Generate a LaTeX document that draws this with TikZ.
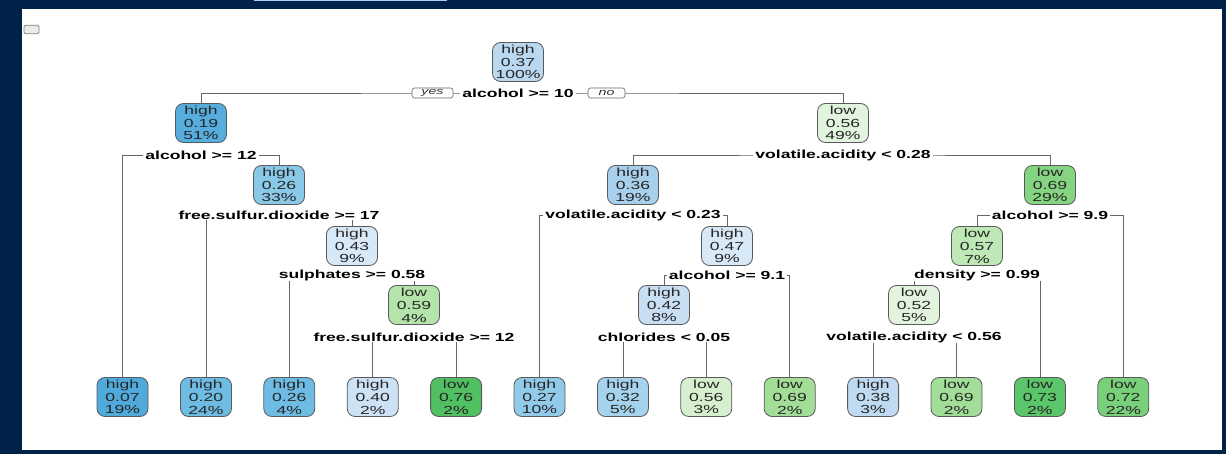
\documentclass[tikz,border=0pt]{standalone}
\usepackage{fontspec}
\newfontfamily\rf[FakeStretch=1.5]{Liberation Sans}
\pgfdeclarelayer{back}\pgfdeclarelayer{edges}\pgfsetlayers{back,edges,main}
\definecolor{navy}{RGB}{0,34,72}
\definecolor{topbar}{RGB}{176,204,240}
\definecolor{cA}{RGB}{80,170,220}
\definecolor{cB}{RGB}{86,173,222}
\definecolor{cC}{RGB}{110,188,228}
\definecolor{cD}{RGB}{138,200,232}
\definecolor{cE}{RGB}{145,203,233}
\definecolor{cF}{RGB}{165,210,236}
\definecolor{cG}{RGB}{168,208,236}
\definecolor{cH}{RGB}{186,216,240}
\definecolor{cI}{RGB}{192,218,241}
\definecolor{cJ}{RGB}{205,226,245}
\definecolor{cK}{RGB}{200,222,243}
\definecolor{cL}{RGB}{215,232,247}
\definecolor{gA}{RGB}{226,244,222}
\definecolor{gB}{RGB}{225,245,222}
\definecolor{gC}{RGB}{214,240,207}
\definecolor{gD}{RGB}{190,233,182}
\definecolor{gE}{RGB}{180,228,170}
\definecolor{gF}{RGB}{162,222,152}
\definecolor{gG}{RGB}{132,212,130}
\definecolor{gH}{RGB}{120,208,122}
\definecolor{gI}{RGB}{90,198,105}
\definecolor{gJ}{RGB}{80,192,98}
\begin{document}
\begin{tikzpicture}[x=1pt,y=-1pt,
  nd/.style={draw=black!65, line width=0.8pt, rounded corners=8pt,
    minimum width=51pt, minimum height=39pt, inner xsep=3pt, inner ysep=1pt,
    align=center, text=black!85, font=\rf\fontsize{11.7}{12.8}\selectfont},
  lbl/.style={fill=white, inner xsep=2pt, inner ysep=1pt, text=black,
    font=\rf\bfseries\fontsize{11.7}{12.8}\selectfont},
  yn/.style={draw=black!60, fill=white, line width=0.6pt, rounded corners=2.5pt,
    minimum height=10pt, inner sep=0.5pt, text=black!80,
    font=\rf\itshape\fontsize{9.5}{10}\selectfont},
  ln/.style={draw=black!60, line width=0.8pt},
  chk/.style={draw=black!50, fill=black!8, line width=0.8pt, rounded corners=1.5pt,
    minimum width=15pt, minimum height=8.5pt, inner sep=0pt}]
\useasboundingbox (0,0) rectangle (1226,454);
\begin{pgfonlayer}{back}
\fill[navy] (0,0) rectangle (1226,454);
\fill[white] (22,9) rectangle (1222,450);
\fill[topbar] (254,0) rectangle (447,1.5);
\end{pgfonlayer}
\node[chk] (cb) at (31.5,29.5) {};
% internal nodes
\node[nd, fill=cH] (n1) at (518,62) {high\\0.37\\100\%};
\node[nd, fill=cB] (n2) at (201,123) {high\\0.19\\51\%};
\node[nd, fill=gB] (n3) at (843,123) {low\\0.56\\49\%};
\node[nd, fill=cD] (n4) at (279,185) {high\\0.26\\33\%};
\node[nd, fill=cG] (n6) at (633,185) {high\\0.36\\19\%};
\node[nd, fill=gG] (n7) at (1050,185) {low\\0.69\\29\%};
\node[nd, fill=cL] (n9) at (352,246) {high\\0.43\\9\%};
\node[nd, fill=cL] (n13) at (727,246) {high\\0.47\\9\%};
\node[nd, fill=gD] (n14) at (977,246) {low\\0.57\\7\%};
\node[nd, fill=gE] (n19) at (414,305) {low\\0.59\\4\%};
\node[nd, fill=cK] (n26) at (664,305) {high\\0.42\\8\%};
\node[nd, fill=gA] (n28) at (914,305) {low\\0.52\\5\%};
% leaves
\node[nd, fill=cA] (l1) at (122.5,397) {high\\0.07\\19\%};
\node[nd, fill=cC] (l2) at (206,397) {high\\0.20\\24\%};
\node[nd, fill=cC] (l3) at (289.3,397) {high\\0.26\\4\%};
\node[nd, fill=cJ] (l4) at (372.7,397) {high\\0.40\\2\%};
\node[nd, fill=gJ] (l5) at (456.1,397) {low\\0.76\\2\%};
\node[nd, fill=cE] (l6) at (539.5,397) {high\\0.27\\10\%};
\node[nd, fill=cF] (l7) at (622.9,397) {high\\0.32\\5\%};
\node[nd, fill=gC] (l8) at (706.3,397) {low\\0.56\\3\%};
\node[nd, fill=gF] (l9) at (789.7,397) {low\\0.69\\2\%};
\node[nd, fill=cI] (l10) at (873.1,397) {high\\0.38\\3\%};
\node[nd, fill=gF] (l11) at (956.5,397) {low\\0.69\\2\%};
\node[nd, fill=gI] (l12) at (1039.9,397) {low\\0.73\\2\%};
\node[nd, fill=gH] (l13) at (1123.3,397) {low\\0.72\\22\%};
% split labels
\node[lbl] (s1) at (518,93) {alcohol >= 10};
\node[yn, minimum width=41pt] (yes) at (432.5,93) {yes};
\node[yn, minimum width=37pt] (no) at (606.5,93) {no};
\node[lbl] (s2) at (201,155) {alcohol >= 12};
\node[lbl] (s3) at (843,155) {volatile.acidity < 0.28};
\node[lbl] (s4) at (279,215) {free.sulfur.dioxide >= 17};
\node[lbl] (s6) at (633,215) {volatile.acidity < 0.23};
\node[lbl] (s7) at (1050,215) {alcohol >= 9.9};
\node[lbl] (s9) at (352,275) {sulphates >= 0.58};
\node[lbl] (s13) at (727,275) {alcohol >= 9.1};
\node[lbl] (s14) at (977,275) {density >= 0.99};
\node[lbl] (s19) at (414,337) {free.sulfur.dioxide >= 12};
\node[lbl] (s26) at (664,337) {chlorides < 0.05};
\node[lbl] (s28) at (914,337) {volatile.acidity < 0.56};
% connectors
\begin{pgfonlayer}{edges}
\draw[ln] (n2.north) |- (s1.center) -| (n3.north);
\draw[ln] (l1.north) |- (s2.center) -| (n4.north);
\draw[ln] (n6.north) |- (s3.center) -| (n7.north);
\draw[ln] (l2.north) |- (s4.center) -| (n9.north);
\draw[ln] (l6.north) |- (s6.center) -| (n13.north);
\draw[ln] (n14.north) |- (s7.center) -| (l13.north);
\draw[ln] (l3.north) |- (s9.center) -| (n19.north);
\draw[ln] (n26.north) |- (s13.center) -| (l9.north);
\draw[ln] (n28.north) |- (s14.center) -| (l12.north);
\draw[ln] (l4.north) |- (s19.center) -| (l5.north);
\draw[ln] (l7.north) |- (s26.center) -| (l8.north);
\draw[ln] (l10.north) |- (s28.center) -| (l11.north);
\end{pgfonlayer}
\end{tikzpicture}
\end{document}
